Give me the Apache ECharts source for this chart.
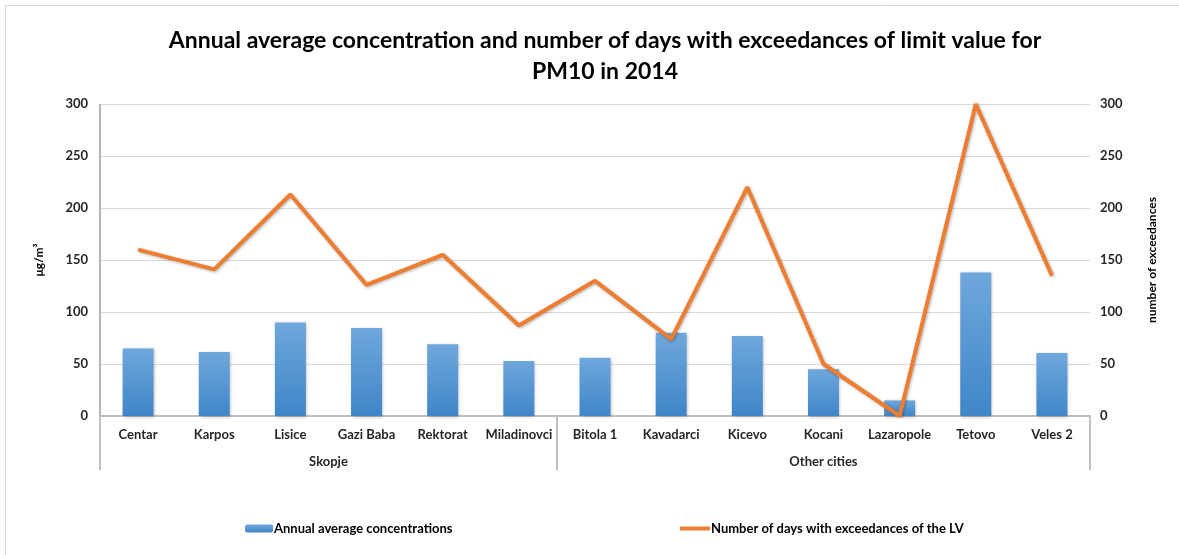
<!DOCTYPE html>
<html>
<head>
<meta charset="utf-8">
<script src="https://cdn.jsdelivr.net/npm/echarts@6/dist/echarts.min.js"></script>
<style>
  html, body { margin: 0; padding: 0; background: #fff; }
  #chart { width: 1179px; height: 555px; }
</style>
</head>
<body>
<div id="chart"></div>
<script>
// stations along the x axis
const stations = ['Centar', 'Karpos', 'Lisice', 'Gazi Baba', 'Rektorat', 'Miladinovci',
    'Bitola 1', 'Kavadarci', 'Kicevo', 'Kocani', 'Lazaropole', 'Tetovo', 'Veles 2'];
// station groups and how many stations each one spans
const groups = ['Skopje', 'Other cities'];
const groupSizes = [6, 7];
// annual average PM10, ug/m3
const annualAvg = [65, 61.5, 90, 84.5, 69, 53, 56, 80, 77, 45, 15, 138, 60.5];
// days with exceedances of the LV
const exceedDays = [160, 141, 213, 126, 155, 87, 130, 74, 220, 50, 0, 300, 135];
const barName = 'Annual average concentrations';
const lineName = 'Number of days with exceedances of the LV';

const font = 'Lato';
const textCol = '#262626';
const lineGray = '#d9d9d9';
const axisGray = '#bfbfbf';
const W = 1179, H = 555;
const gridBox = { left: 100, right: 89, top: 104, bottom: 139 };

// group boundaries and centres, counted in category widths from the left edge
let bounds = [0], centres = [], pos = 0;
groupSizes.forEach(n => {
    centres.push(pos + n / 2);
    pos += n;
    bounds.push(pos);
});

const labelStyle = { fontFamily: font, fontSize: 13, fontWeight: 'bold', color: textCol };
const legendText = { fontFamily: font, fontSize: 13, fontWeight: 'bold', color: '#000', padding: [0, 0, 0, -4] };

const chart = echarts.init(document.getElementById('chart'));
chart.setOption({
    animation: false,
    textStyle: { fontFamily: font },
    title: {
        text: 'Annual average concentration and number of days with exceedances of limit value for\nPM10 in 2014',
        left: 600,
        top: 20,
        textAlign: 'center',
        textStyle: { fontFamily: font, fontSize: 23, fontWeight: 'bold', color: '#000', lineHeight: 31 }
    },
    graphic: [{
        type: 'rect',
        shape: { x: 5.5, y: 5.5, width: 1180, height: 560 },
        style: { fill: 'none', stroke: lineGray, lineWidth: 1 },
        silent: true
    }, {
        // left frame of the plot area
        type: 'rect',
        left: gridBox.left - 1,
        top: gridBox.top,
        z: 100,
        shape: { width: 2, height: H - gridBox.top - gridBox.bottom },
        style: { fill: '#b3b3b3' },
        silent: true
    }],
    legend: [{
        left: 240,
        top: 517,
        itemWidth: 28,
        itemHeight: 8,
        textStyle: legendText,
        data: [barName]
    }, {
        left: 675,
        top: 517,
        itemWidth: 30,
        itemHeight: 4,
        icon: 'rect',
        textStyle: legendText,
        data: [lineName]
    }],
    grid: gridBox,
    xAxis: [{
        type: 'category',
        data: stations,
        axisLine: { lineStyle: { color: axisGray, width: 2 } },
        axisTick: { show: false },
        axisLabel: Object.assign({ margin: 12, interval: 0 }, labelStyle)
    }, {
        type: 'value',
        position: 'bottom',
        min: 0,
        max: stations.length,
        axisLine: { show: false },
        splitLine: { show: false },
        axisTick: {
            show: true,
            customValues: bounds,
            length: 54,
            lineStyle: { color: axisGray, width: 2 }
        },
        axisLabel: Object.assign({
            customValues: centres,
            margin: 39,
            formatter: v => groups[centres.indexOf(v)] || ''
        }, labelStyle)
    }],
    yAxis: [{
        type: 'value',
        min: 0,
        max: 300,
        interval: 50,
        name: 'μg/m³',
        nameLocation: 'middle',
        nameGap: 55,
        nameTextStyle: { fontFamily: font, fontSize: 12, fontWeight: 'bold', color: '#000' },
        axisLine: { show: false },
        axisTick: { show: false },
        axisLabel: Object.assign({ margin: 12 }, labelStyle),
        splitLine: { lineStyle: { color: lineGray, width: 1 } }
    }, {
        type: 'value',
        min: 0,
        max: 300,
        interval: 50,
        name: 'number of exceedances',
        nameLocation: 'middle',
        nameGap: 56,
        nameRotate: 90,
        nameTextStyle: { fontFamily: font, fontSize: 12, fontWeight: 'bold', color: '#000' },
        axisLine: { show: false },
        axisTick: { show: false },
        axisLabel: Object.assign({ margin: 10 }, labelStyle),
        splitLine: { show: false }
    }],
    series: [{
        name: barName,
        type: 'bar',
        yAxisIndex: 0,
        barWidth: 31,
        data: annualAvg,
        itemStyle: {
            color: new echarts.graphic.LinearGradient(0, 0, 0, 1, [
                { offset: 0, color: '#6fa7dc' },
                { offset: 1, color: '#3f86c8' }
            ]),
            shadowColor: 'rgba(0,0,0,0.25)',
            shadowBlur: 3,
            shadowOffsetX: 1,
            shadowOffsetY: 1
        }
    }, {
        name: lineName,
        type: 'line',
        yAxisIndex: 1,
        symbol: 'none',
        data: exceedDays,
        lineStyle: {
            color: '#ed7d31',
            width: 4,
            shadowColor: 'rgba(0,0,0,0.3)',
            shadowBlur: 3,
            shadowOffsetX: 1,
            shadowOffsetY: 1
        },
        itemStyle: { color: '#ed7d31' }
    }]
});
</script>
</body>
</html>
